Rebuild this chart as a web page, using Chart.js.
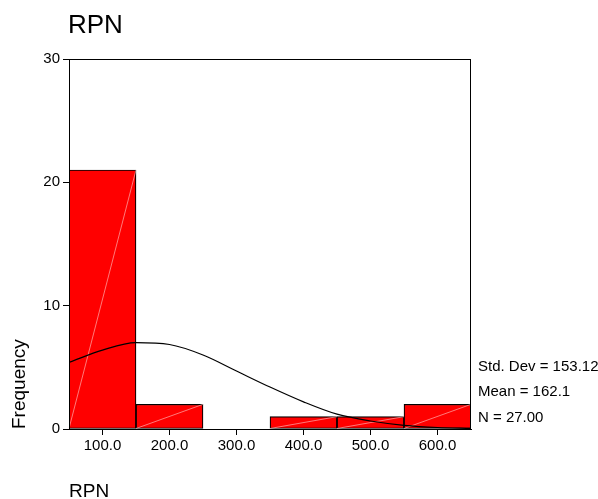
<!DOCTYPE html>
<html>
<head>
<meta charset="utf-8">
<script src="https://cdn.jsdelivr.net/npm/chart.js@4"></script>
<style>
  html, body { margin: 0; padding: 0; background: #fff; }
  #wrap { width: 598px; height: 499px; }
</style>
</head>
<body>
<div id="wrap"><canvas id="myChart" width="598" height="499"></canvas></div>
<script>
var binCenters = [100, 200, 300, 400, 500, 600];
var frequencies = [21, 2, 0, 1, 1, 2];

// normal curve
var curveX = [50, 100, 150, 200, 250, 300, 350, 400, 450, 500, 550, 600, 650];
var curveY = [5.4, 6.4, 7.0, 6.85, 6.0, 4.7, 3.4, 2.2, 1.2, 0.65, 0.3, 0.12, 0.05];

var yTicks = [0, 10, 20, 30];
var statsLines = ["Std. Dev = 153.12", "Mean = 162.1", "N = 27.00"];

Chart.defaults.font.family = "'Liberation Sans', Arial, sans-serif";
Chart.defaults.color = "#000";

var barPoints = binCenters.map(function (x, i) { return {x: x, y: frequencies[i]}; });
var curvePoints = curveX.map(function (x, i) { return {x: x, y: curveY[i]}; });

var extras = {
  id: "extras",
  afterDatasetDraw: function (chart, args) {
    if (args.meta.type !== "bar") return;
    var ctx = chart.ctx;
    ctx.save();
    ctx.strokeStyle = "rgba(255,190,190,0.8)";
    ctx.lineWidth = 0.8;
    args.meta.data.forEach(function (bar) {
      var p = bar.getProps(["x", "y", "base", "width"], true);
      if (Math.abs(p.base - p.y) < 1) return;
      ctx.beginPath();
      ctx.moveTo(p.x - p.width / 2, p.base);
      ctx.lineTo(p.x + p.width / 2, p.y);
      ctx.stroke();
    });
    ctx.restore();
  },
  afterDraw: function (chart) {
    var ctx = chart.ctx;
    var a = chart.chartArea;
    ctx.save();
    ctx.strokeStyle = "#000";
    ctx.lineWidth = 1;
    ctx.strokeRect(a.left + 0.5, a.top + 0.5, a.right - a.left - 1, a.bottom - a.top);
    ctx.fillStyle = "#000";
    ctx.textBaseline = "middle";
    ctx.textAlign = "left";
    ctx.font = "26px 'Liberation Sans', Arial, sans-serif";
    ctx.fillText("RPN", 68, 26);
    ctx.font = "15px 'Liberation Sans', Arial, sans-serif";
    statsLines.forEach(function (s, i) {
      ctx.fillText(s, a.right + 7, 367 + i * 25.3);
    });
    ctx.restore();
  }
};

new Chart("myChart", {
  type: "bar",
  data: {
    datasets: [{
      type: "line",
      data: curvePoints,
      borderColor: "#000",
      borderWidth: 1.2,
      pointRadius: 0,
      fill: false,
      cubicInterpolationMode: "monotone",
      order: 0
    }, {
      type: "bar",
      data: barPoints,
      backgroundColor: "#ff0000",
      borderColor: "#000",
      borderWidth: 1.2,
      borderSkipped: false,
      barPercentage: 1,
      categoryPercentage: 1,
      grouped: false,
      order: 1
    }]
  },
  options: {
    responsive: false,
    animation: false,
    layout: {padding: {top: 59, right: 127, left: 0, bottom: 0}},
    plugins: {
      legend: {display: false},
      title: {display: false},
      tooltip: {enabled: false}
    },
    scales: {
      x: {
        type: "linear",
        min: 50,
        max: 650,
        offset: false,
        afterBuildTicks: function (s) { s.ticks = binCenters.map(function (v) { return {value: v}; }); },
        grid: {display: true, drawOnChartArea: false, drawTicks: true, tickLength: 6, color: "#000", offset: false},
        border: {display: true, color: "#000", width: 1},
        ticks: {font: {size: 15}, padding: 2, maxRotation: 0, callback: function (v) { return v.toFixed(1); }},
        title: {display: true, text: "RPN", align: "start", font: {size: 19, lineHeight: 1}, padding: {top: 0, bottom: -2}},
        afterFit: function (s) { s.height = 70; }
      },
      y: {
        min: 0,
        max: 30,
        afterBuildTicks: function (s) { s.ticks = yTicks.map(function (v) { return {value: v}; }); },
        grid: {display: true, drawOnChartArea: false, drawTicks: true, tickLength: 6, color: "#000"},
        border: {display: true, color: "#000", width: 1},
        ticks: {font: {size: 15}, padding: 3},
        title: {display: true, text: "Frequency", align: "start", font: {size: 19, lineHeight: 1.2}, padding: {top: 8, bottom: 0}},
        afterFit: function (s) { s.width = 69; }
      }
    }
  },
  plugins: [extras]
});
</script>
</body>
</html>
